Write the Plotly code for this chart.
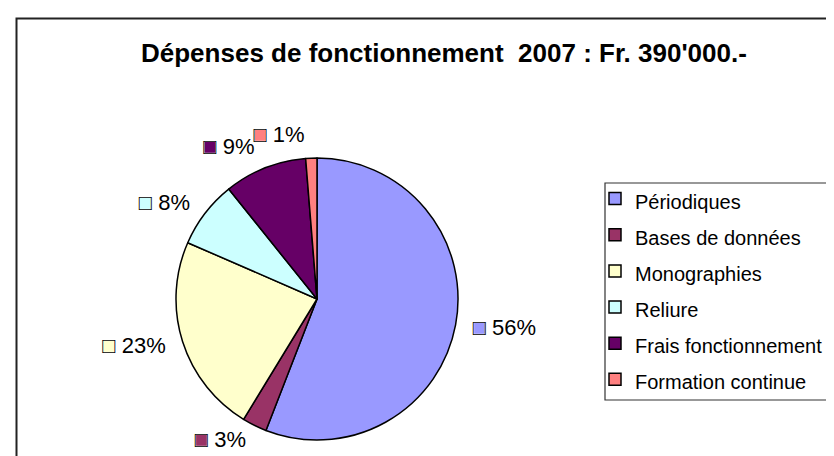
import plotly.graph_objects as go

categories = ["Périodiques", "Bases de données", "Monographies", "Reliure",
              "Frais fonctionnement", "Formation continue"]
amounts = [218000, 11000, 89000, 30000, 37000, 5000]
colors = ["#9999FF", "#993366", "#FFFFCC", "#CCFFFF", "#660066", "#FF8080"]
title_text = "Dépenses de fonctionnement  2007 : Fr. 390'000.-"

W, H = 834, 456
cx, cy, r = 309, 291, 141


def dom(rad):
    return dict(x=[(cx - rad) / W, (cx + rad) / W],
                y=[1 - (cy + rad) / H, 1 - (cy - rad) / H])


FONT = "Liberation Sans, Arial, DejaVu Sans, sans-serif"
LABEL_SIZE = 22

legend_labels = [f"<span style='font-size:20px'>{c}</span>" for c in categories]
clear = "rgba(0,0,0,0)"
n = len(categories)

# data-label groups (slice indices, label radius): Excel puts labels a bit
# further out than plotly; separate traces avoid plotly's label scooting
label_groups = [([0, 2, 3, 4], r + 11), ([1], r + 5), ([5], r + 11)]


def fill_tpl(i):
    return f"<span style='color:{colors[i]}'>■</span> %{{percent:.0%}}"


def outline_tpl(i):
    return f"□<span style='color:{clear}'> %{{percent:.0%}}</span>"


fig = go.Figure()
# coloured pie
fig.add_trace(go.Pie(
    labels=legend_labels, values=amounts, sort=False, direction="clockwise",
    rotation=0, domain=dom(r),
    marker=dict(colors=colors, line=dict(color="black", width=1.5)),
    textinfo="none", hoverinfo="label+percent", showlegend=True,
))

# data labels: transparent pies of slightly larger radius
for group, rad in label_groups:
    for maker in (fill_tpl, outline_tpl):
        tpl = [maker(i) if i in group else "" for i in range(n)]
        fig.add_trace(go.Pie(
            labels=legend_labels, values=amounts, sort=False, direction="clockwise",
            rotation=0, domain=dom(rad),
            marker=dict(colors=[clear] * n, line=dict(width=0)),
            textposition="outside", texttemplate=tpl,
            textfont=dict(family=FONT, size=LABEL_SIZE, color="black"),
            hoverinfo="skip", showlegend=False,
        ))

fig.update_layout(
    width=W, height=H,
    margin=dict(l=0, r=0, t=0, b=0),
    paper_bgcolor="white", plot_bgcolor="white",
    title=dict(text=title_text, x=133 / W, xanchor="left", y=1 - 45 / H, yanchor="middle",
               xref="paper", yref="paper",
               font=dict(family=FONT, size=26, color="black", weight="bold")),
    legend=dict(x=587 / W, y=1 - 167.5 / H, xanchor="left", yanchor="top",
                borderwidth=0, bgcolor=clear,
                font=dict(family=FONT, size=25.5, color="black"),
                traceorder="normal"),
    shapes=[
        dict(type="rect", xref="paper", yref="paper",
             x0=8.5 / W, x1=1.2, y0=-0.2, y1=1 - 10.5 / H,
             line=dict(color="#222222", width=2), fillcolor=clear, layer="below"),
        dict(type="rect", xref="paper", yref="paper",
             x0=597 / W, x1=1.2, y0=1 - 392 / H, y1=1 - 175 / H,
             line=dict(color="#333333", width=1.2), fillcolor="white", layer="below"),
    ],
)

fig.write_html("out.html")
